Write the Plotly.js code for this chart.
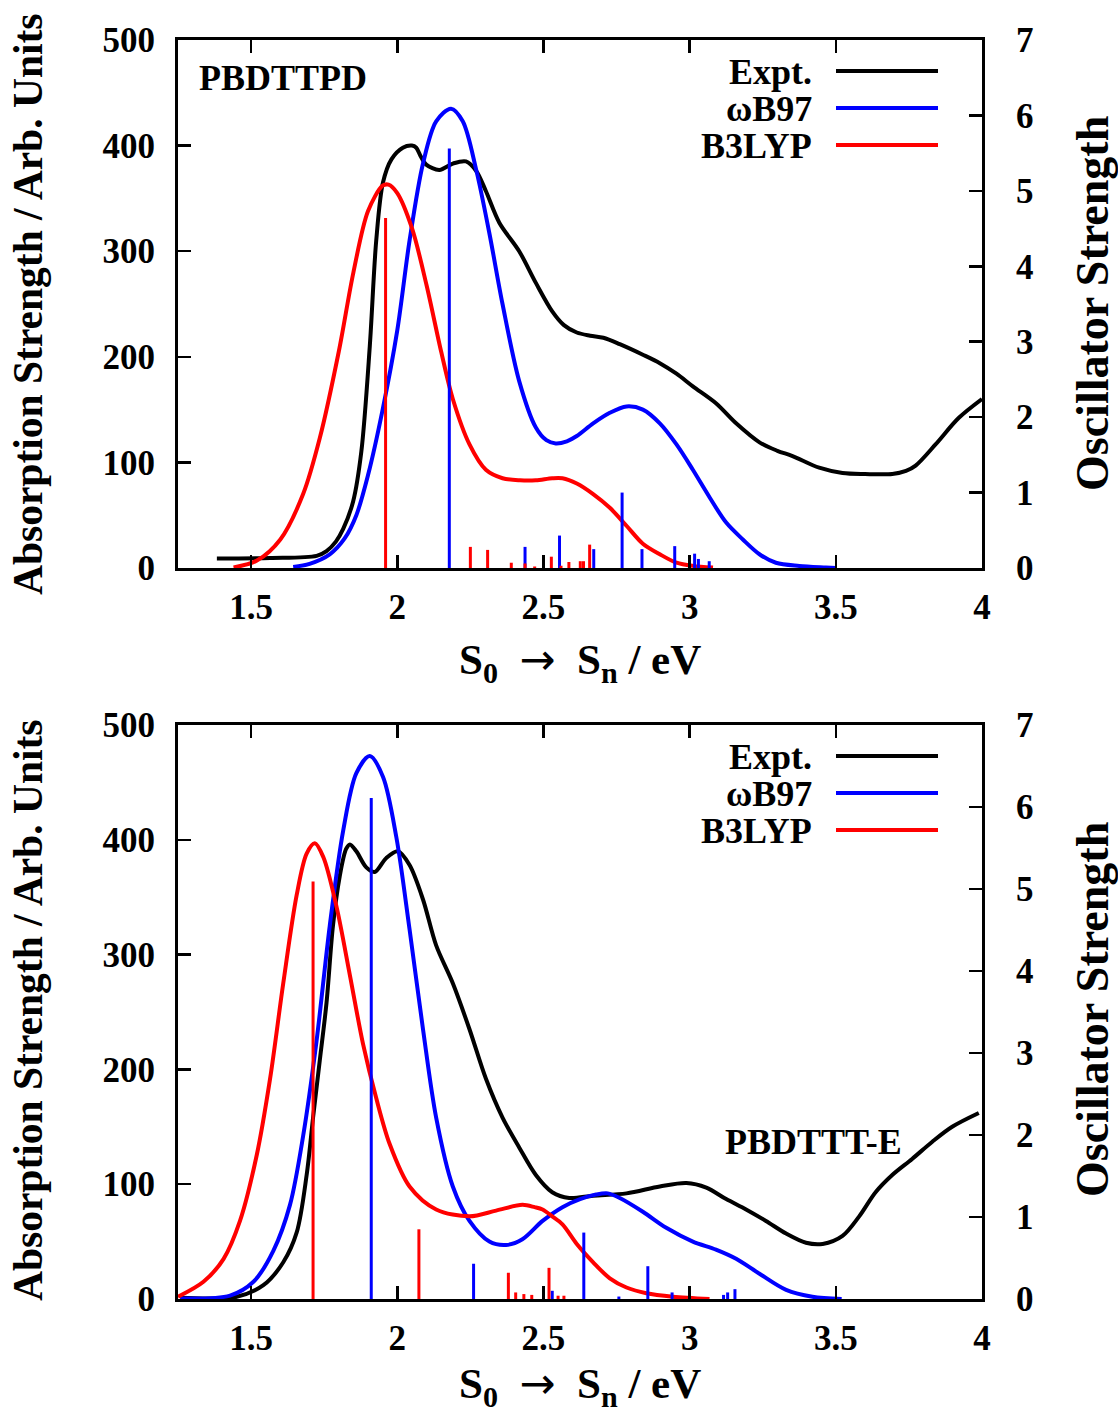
<!DOCTYPE html>
<html>
<head>
<meta charset="utf-8">
<script src="https://cdn.plot.ly/plotly-3.0.1.min.js"></script>
<style>html,body{margin:0;padding:0;background:#fff;}</style>
</head>
<body>
<div id="chart" style="width:1118px;height:1416px;"></div>
<script>
// ---------- Panel 1: PBDTTPD ----------
const topExptX = [1.383,1.565,1.724,1.758,1.79,1.815,1.849,1.877,1.906,1.928,1.951,1.98,2.019,2.05,2.065,2.08,2.099,2.144,2.19,2.235,2.27,2.303,2.349,2.417,2.474,2.53,2.57,2.614,2.66,2.705,2.761,2.84,2.898,2.955,3.011,3.09,3.159,3.239,3.3,3.352,3.443,3.523,3.6,3.693,3.74,3.773,3.841,3.92,4.0];
const topExptY = [9,9.5,11.5,16,25,37,63,110,210,310,365,387,398,400,398,390,382,377,383,385,376,357,327,300,270,243,230,223,220,218,212,202,194,184,172,156,137,119,111,106,95,90,89,89,92,97,117,142,160];

const topWbX = [1.644,1.7,1.769,1.82,1.86,1.9,1.95,2.0,2.042,2.088,2.133,2.184,2.224,2.27,2.315,2.36,2.417,2.474,2.51,2.542,2.58,2.614,2.67,2.727,2.784,2.84,2.898,2.955,3.011,3.068,3.125,3.182,3.239,3.295,3.375,3.466,3.5];
const topWbY = [1,4,13,28,50,88,150,225,310,383,423,435,423,377,317,250,177,133,121,118,120,125,137,147,153,150,137,117,93,67,43,27,13,5,2,0.5,0];

const topB3X = [1.44,1.52,1.6,1.678,1.735,1.8,1.85,1.9,1.95,1.97,2.0,2.05,2.1,2.15,2.19,2.247,2.303,2.36,2.42,2.474,2.53,2.565,2.614,2.67,2.727,2.784,2.84,2.898,2.955,3.011,3.08];
const topB3Y = [0.5,7,27,70,123,205,280,338,362,363,355,322,268,205,160,117,93,85,83,83,85,85,80,70,57,40,23,13,5,2,0.5];

const topWbStickE = [2.178,2.437,2.555,2.672,2.769,2.837,2.949,3.017,3.03,3.067];
const topWbStickF = [5.56,0.28,0.43,0.25,1.0,0.25,0.29,0.19,0.12,0.09];
const topB3StickE = [1.96,2.25,2.309,2.39,2.437,2.47,2.527,2.56,2.587,2.626,2.637,2.658];
const topB3StickF = [4.64,0.28,0.24,0.07,0.06,0.02,0.15,0.03,0.08,0.09,0.09,0.31];

// ---------- Panel 2: PBDTTT-E ----------
const botExptX = [1.258,1.451,1.542,1.61,1.656,1.69,1.712,1.735,1.758,1.78,1.803,1.825,1.838,1.86,1.894,1.923,1.962,2.002,2.042,2.088,2.133,2.19,2.247,2.303,2.36,2.417,2.474,2.53,2.588,2.67,2.784,2.898,2.989,3.057,3.125,3.193,3.261,3.33,3.398,3.455,3.523,3.58,3.636,3.693,3.761,3.83,3.898,3.989];
const botExptY = [1,2,12,32,58,108,158,208,258,325,368,392,396,390,376,372,384,390,378,348,308,275,235,192,158,132,108,93,88,90,92,98,101,97,87,78,68,57,49,48,55,72,93,108,122,137,150,162];

const botWbX = [1.258,1.428,1.508,1.576,1.633,1.678,1.724,1.769,1.815,1.86,1.906,1.951,1.997,2.042,2.088,2.133,2.19,2.247,2.315,2.372,2.428,2.497,2.565,2.625,2.68,2.72,2.761,2.84,2.92,3.011,3.09,3.159,3.239,3.33,3.42,3.52];
const botWbY = [0.5,3,15,42,82,142,225,325,408,458,473,455,402,322,235,158,98,68,50,47,52,68,80,87,91,92,88,76,62,50,43,35,22,8,2,0];

const botB3X = [1.25,1.337,1.406,1.462,1.519,1.565,1.61,1.656,1.69,1.718,1.747,1.792,1.838,1.883,1.928,1.974,2.042,2.133,2.247,2.338,2.428,2.47,2.497,2.53,2.565,2.614,2.67,2.727,2.784,2.852,2.943,3.068];
const botB3Y = [2,15,35,68,125,192,275,352,388,397,385,342,282,222,175,135,98,78,72,77,82,80,78,72,65,48,32,18,10,5,2,0];

const botWbStickE = [1.911,2.261,2.53,2.638,2.758,2.857,2.94,3.116,3.13,3.155];
const botWbStickF = [6.11,0.43,0.1,0.81,0.03,0.4,0.08,0.05,0.08,0.12];
const botB3StickE = [1.712,2.074,2.38,2.405,2.433,2.46,2.519,2.55,2.57];
const botB3StickF = [5.09,0.85,0.32,0.08,0.06,0.05,0.38,0.04,0.04];

// ---------- Labels ----------
const xTickVals = [1.5,2,2.5,3,3.5,4];
const xTickText = ['1.5','2','2.5','3','3.5','4'];
const legendNames = ['Expt.','\u03c9B97','B3LYP'];
const seriesColors = ['#000000','#0000ff','#ff0000'];
const panelNames = ['PBDTTPD','PBDTTT-E'];
const yTitle = 'Absorption Strength / Arb. Units';
const y2Title = 'Oscillator Strength';
const xTitle = 'S<sub>0</sub>  <span style="font-family:DejaVu Sans;font-weight:normal">\u2192</span>  S<sub>n</sub> / eV';

const FONT = 'Liberation Serif, "Times New Roman", serif';

function sticks(E, F, color, xa, ya) {
  const xs = [], ys = [];
  E.forEach((e, i) => { xs.push(e, e, null); ys.push(0, F[i], null); });
  return {x: xs, y: ys, xaxis: xa, yaxis: ya, mode: 'lines', type: 'scatter',
          line: {color: color, width: 3}, hoverinfo: 'skip', showlegend: false};
}
function curve(X, Y, color, xa, ya) {
  return {x: X, y: Y, xaxis: xa, yaxis: ya, mode: 'lines', type: 'scatter',
          line: {color: color, width: 4, shape: 'spline', smoothing: 0.9}, showlegend: false};
}

const data = [
  sticks(topWbStickE, topWbStickF, seriesColors[1], 'x', 'y2'),
  sticks(topB3StickE, topB3StickF, seriesColors[2], 'x', 'y2'),
  curve(topExptX, topExptY, seriesColors[0], 'x', 'y'),
  curve(topWbX, topWbY, seriesColors[1], 'x', 'y'),
  curve(topB3X, topB3Y, seriesColors[2], 'x', 'y'),
  sticks(botWbStickE, botWbStickF, seriesColors[1], 'x2', 'y4'),
  sticks(botB3StickE, botB3StickF, seriesColors[2], 'x2', 'y4'),
  curve(botExptX, botExptY, seriesColors[0], 'x2', 'y3'),
  curve(botWbX, botWbY, seriesColors[1], 'x2', 'y3'),
  curve(botB3X, botB3Y, seriesColors[2], 'x2', 'y3')
];

const tickFont = {family: FONT, size: 35, color: '#000', weight: 'bold'};
function xAxis(anchor) {
  return {anchor: anchor, domain: [0, 1], range: [1.25, 4], tickmode: 'array',
    tickvals: xTickVals, ticktext: xTickText, ticks: 'inside', ticklen: 13, tickwidth: 2.5,
    tickcolor: '#000', showline: true, linewidth: 3, linecolor: '#000', mirror: 'ticks',
    showgrid: false, zeroline: false, tickfont: tickFont, ticklabelstandoff: 6};
}
function yLeft(domain) {
  return {anchor: 'x', domain: domain, range: [0, 500], tickmode: 'linear', tick0: 0, dtick: 100,
    ticks: 'inside', ticklen: 13, tickwidth: 2.5, tickcolor: '#000', showline: true, linewidth: 3,
    linecolor: '#000', mirror: false, showgrid: false, zeroline: false, tickfont: tickFont,
    ticklabelstandoff: 13};
}
function yRight(over, xa) {
  return {overlaying: over, anchor: xa, side: 'right', range: [0, 7], tickmode: 'linear', tick0: 0, dtick: 1,
    ticks: 'inside', ticklen: 13, tickwidth: 2.5, tickcolor: '#000', showline: true, linewidth: 3,
    linecolor: '#000', showgrid: false, zeroline: false, tickfont: tickFont, ticklabelstandoff: 24};
}

const L = 178, R = 982, PB = 1299, PT = 40, PH = PB - PT, PW = R - L;
const px2x = p => (p - L) / PW;
const py2y = p => (PB - p) / PH;

const topDom = [py2y(568), 1];
const botDom = [0, py2y(725)];

const txt = (size) => ({family: FONT, size: size, color: '#000', weight: 'bold'});
const annotations = [];
const shapes = [];
// axis titles
[[304, 304, 662], [1010, 1010, 1386]].forEach(([cy, cy2, xy]) => {
  annotations.push({xref: 'paper', yref: 'paper', x: px2x(28), y: py2y(cy), text: yTitle, textangle: -90,
    showarrow: false, xanchor: 'center', yanchor: 'middle', font: txt(41.5)});
  annotations.push({xref: 'paper', yref: 'paper', x: px2x(1092), y: py2y(cy2), text: y2Title, textangle: -90,
    showarrow: false, xanchor: 'center', yanchor: 'middle', font: txt(46)});
  annotations.push({xref: 'paper', yref: 'paper', x: 0.5, y: py2y(xy), text: xTitle,
    showarrow: false, xanchor: 'center', yanchor: 'middle', font: txt(43)});
});
// legends
[[72, 109, 146], [757, 794, 831]].forEach(rows => {
  rows.forEach((py, i) => {
    annotations.push({xref: 'paper', yref: 'paper', x: px2x(814), y: py2y(py), text: legendNames[i],
      showarrow: false, xanchor: 'right', yanchor: 'middle', font: txt(36)});
    shapes.push({type: 'line', xref: 'paper', yref: 'paper', x0: px2x(836), x1: px2x(938),
      y0: py2y(py - 1), y1: py2y(py - 1), line: {color: seriesColors[i], width: 4}});
  });
});
// panel names
annotations.push({xref: 'paper', yref: 'paper', x: px2x(197), y: py2y(78), text: panelNames[0],
  showarrow: false, xanchor: 'left', yanchor: 'middle', font: txt(36)});
annotations.push({xref: 'paper', yref: 'paper', x: px2x(904), y: py2y(1142), text: panelNames[1],
  showarrow: false, xanchor: 'right', yanchor: 'middle', font: txt(36)});

const layout = {
  width: 1118, height: 1416,
  margin: {l: L, r: 1118 - R, t: PT, b: 1416 - PB, pad: 0},
  paper_bgcolor: '#fff', plot_bgcolor: '#fff', showlegend: false,
  font: {family: FONT, size: 35, color: '#000', weight: 'bold'},
  xaxis: xAxis('y'),
  yaxis: yLeft(topDom),
  yaxis2: yRight('y', 'x'),
  xaxis2: xAxis('y3'),
  yaxis3: Object.assign(yLeft(botDom), {anchor: 'x2'}),
  yaxis4: yRight('y3', 'x2'),
  annotations: annotations,
  shapes: shapes
};

Plotly.newPlot('chart', data, layout, {staticPlot: true, displayModeBar: false});
</script>
</body>
</html>
